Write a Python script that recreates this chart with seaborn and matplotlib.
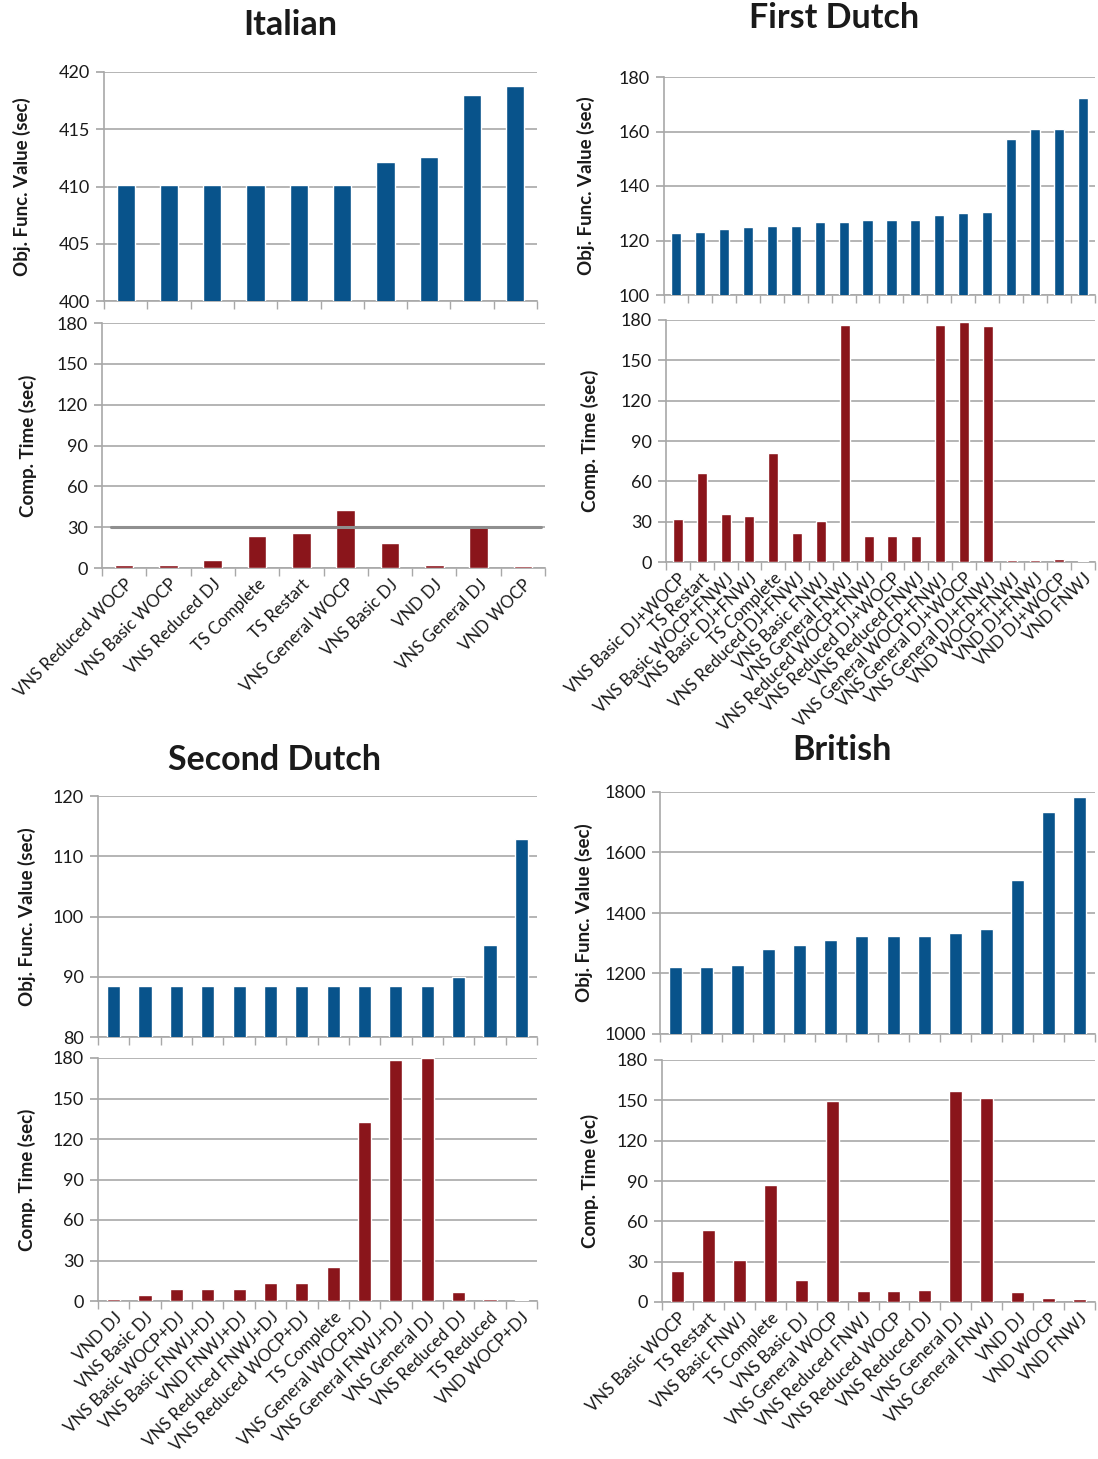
import matplotlib
matplotlib.use("Agg")
import matplotlib.pyplot as plt
import seaborn as sns
import numpy as np

# ---- data ----
italian_cats = ["VNS Reduced WOCP", "VNS Basic WOCP", "VNS Reduced DJ", "TS Complete", "TS Restart",
                "VNS General WOCP", "VNS Basic DJ", "VND DJ", "VNS General DJ", "VND WOCP"]
italian_obj = [410.1, 410.1, 410.1, 410.1, 410.1, 410.1, 412.1, 412.6, 418.0, 418.8]
italian_time = [2.4, 2.4, 5.6, 23.6, 26.0, 42.8, 18.6, 1.9, 30.3, 1.7]

first_dutch_cats = ["VNS Basic DJ+WOCP", "TS Restart", "VNS Basic WOCP+FNWJ", "VNS Basic DJ+FNWJ",
                    "TS Complete", "VNS Reduced DJ+FNWJ", "VNS Basic FNWJ", "VNS General FNWJ",
                    "VNS Reduced WOCP+FNWJ", "VNS Reduced DJ+WOCP", "VNS Reduced FNWJ",
                    "VNS General WOCP+FNWJ", "VNS General DJ+WOCP", "VNS General DJ+FNWJ",
                    "VND WOCP+FNWJ", "VND DJ+FNWJ", "VND DJ+WOCP", "VND FNWJ"]
first_dutch_obj = [122.9, 123.0, 124.2, 124.9, 125.3, 125.5, 126.7, 126.9, 127.7, 127.7, 127.7,
                   129.2, 130.2, 130.4, 157.4, 160.8, 160.8, 172.2]
first_dutch_time = [31.9, 66.2, 35.4, 34.3, 81.2, 21.5, 30.2, 176.2, 19.2, 19.2, 19.5,
                    176.2, 178.7, 175.7, 1.7, 1.7, 1.9, 1.0]

second_dutch_cats = ["VND DJ", "VNS Basic DJ", "VNS Basic WOCP+DJ", "VNS Basic FNWJ+DJ", "VND FNWJ+DJ",
                     "VNS Reduced FNWJ+DJ", "VNS Reduced WOCP+DJ", "TS Complete", "VNS General WOCP+DJ",
                     "VNS General FNWJ+DJ", "VNS General DJ", "VNS Reduced DJ", "TS Reduced", "VND WOCP+DJ"]
second_dutch_obj = [88.4, 88.4, 88.4, 88.4, 88.4, 88.4, 88.4, 88.4, 88.4, 88.4, 88.4, 90.0, 95.2, 112.9]
second_dutch_time = [1.2, 4.7, 8.7, 9.2, 9.2, 13.7, 13.7, 25.1, 132.3, 178.8, 179.7, 7.0, 1.2, 0.7]

british_cats = ["VNS Basic WOCP", "TS Restart", "VNS Basic FNWJ", "TS Complete", "VNS Basic DJ",
                "VNS General WOCP", "VNS Reduced FNWJ", "VNS Reduced WOCP", "VNS Reduced DJ",
                "VNS General DJ", "VNS General FNWJ", "VND DJ", "VND WOCP", "VND FNWJ"]
british_obj = [1220, 1223, 1229, 1282, 1293, 1312, 1324, 1324, 1324, 1333, 1348, 1508, 1734, 1782]
british_time = [23.1, 53.6, 31.0, 87.3, 16.0, 149.3, 8.4, 8.4, 8.6, 156.9, 151.5, 7.4, 2.7, 2.2]

BLUE = "#08538B"
RED = "#8A151B"
GRID = "#A8A8A8"
TXT = "#1a1a1a"

sns.set_theme(style="white")
plt.rcParams['font.family'] = ['Lato', 'DejaVu Sans']

W, H = 1098, 1459
fig = plt.figure(figsize=(W / 100, H / 100), dpi=100)


def make_ax(left, right, top, bottom):
    return fig.add_axes([left / W, 1 - bottom / H, (right - left) / W, (bottom - top) / H])


def style(ax, n, ylim, yticks, ylabel, labels=None, labelpad=10):
    ax.set_xlim(-0.5, n - 0.5)
    ax.set_ylim(*ylim)
    ax.set_yticks(yticks)
    ax.set_axisbelow(True)
    ax.yaxis.grid(True, color=GRID, lw=1.2)
    ax.xaxis.grid(False)
    for s in ["top", "right"]:
        ax.spines[s].set_visible(False)
    for s in ["left", "bottom"]:
        ax.spines[s].set_color(GRID)
        ax.spines[s].set_linewidth(1.2)
        ax.spines[s].set_zorder(1.5)
    # bars above the axis line so the tiny ones stay visible
    for p in ax.patches:
        p.set_zorder(3)
    ax.tick_params(axis="y", which="major", direction="out", length=6, color=GRID,
                   labelsize=13, labelcolor=TXT, left=True, pad=4)
    ax.set_xticks(np.arange(-0.5, n, 1.0), minor=True)
    ax.tick_params(axis="x", which="minor", direction="out", length=6, color=GRID, bottom=True)
    ax.tick_params(axis="x", which="major", length=0, labelsize=12.2, labelcolor=TXT, pad=6)
    ax.set_ylabel(ylabel, fontsize=13.5, fontweight="bold", color=TXT, labelpad=labelpad)
    ax.set_xlabel("")
    ax.set_xticks(np.arange(n))
    if labels is None:
        ax.set_xticklabels([])
    else:
        ax.set_xticklabels(labels, rotation=45, ha="right", rotation_mode="anchor")


def panel(cats, obj, tim, top_box, bot_box, obj_lim, obj_ticks, time_label="Comp. Time (sec)",
          pad_top=10, pad_bot=10):
    n = len(cats)
    ax1 = make_ax(*top_box)
    sns.barplot(x=cats, y=obj, color=BLUE, width=0.42, saturation=1, ax=ax1)
    style(ax1, n, obj_lim, obj_ticks, "Obj. Func. Value (sec)", labelpad=pad_top)
    ax2 = make_ax(*bot_box)
    sns.barplot(x=cats, y=tim, color=RED, width=0.42, saturation=1, ax=ax2)
    style(ax2, n, (0, 180), [0, 30, 60, 90, 120, 150, 180], time_label, labels=cats, labelpad=pad_bot)
    return ax1, ax2


a1, a2 = panel(italian_cats, italian_obj, italian_time,
               (104, 537, 72, 301), (102, 545, 323, 568),
               (400, 420), [400, 405, 410, 415, 420], pad_top=20, pad_bot=14)
a2.axhline(30, xmin=0.02, xmax=0.99, color="#8f8f8f", lw=2.2, zorder=3.5)

panel(first_dutch_cats, first_dutch_obj, first_dutch_time,
      (664, 1095, 77, 295), (666, 1095, 320, 562),
      (100, 180), [100, 120, 140, 160, 180], pad_top=17, pad_bot=16)

panel(second_dutch_cats, second_dutch_obj, second_dutch_time,
      (98, 537, 796, 1037), (98, 537, 1058, 1301),
      (80, 120), [80, 90, 100, 110, 120], pad_top=12, pad_bot=12)

panel(british_cats, british_obj, british_time,
      (660, 1095, 792, 1034), (662, 1095, 1060, 1302),
      (1000, 1800), [1000, 1200, 1400, 1600, 1800], time_label="Comp. Time (ec)",
      pad_top=8, pad_bot=13)

for txt, x, y in [("Italian", 290, 25), ("First Dutch", 834, 18),
                  ("Second Dutch", 274, 760), ("British", 842, 750)]:
    fig.text(x / W, 1 - y / H, txt, ha="center", va="center", fontsize=24.5,
             fontweight="bold", color=TXT)

fig.savefig("out.png", dpi=100)
